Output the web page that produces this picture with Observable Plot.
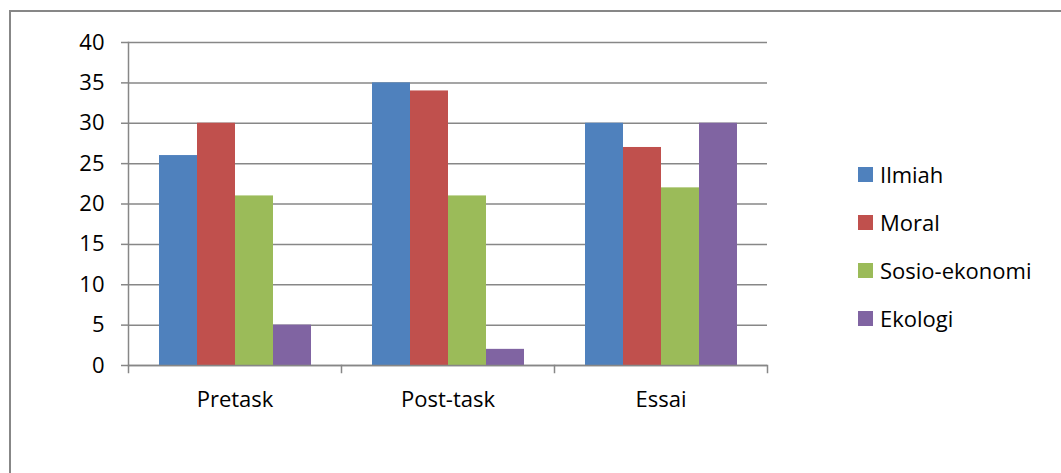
<!DOCTYPE html>
<html><head><meta charset="utf-8">
<script src="https://cdn.jsdelivr.net/npm/d3@7"></script>
<script src="https://cdn.jsdelivr.net/npm/@observablehq/plot@0.6"></script>
<style>
body{margin:0;width:1061px;height:473px;overflow:hidden;background:#fff;font-family:"Open Sans",sans-serif;position:relative;}
#frame{position:absolute;left:9px;top:10px;width:1100px;height:500px;border:2px solid #878787;border-right:none;border-bottom:none;}
#chart{position:absolute;left:0;top:0;}
#legend{position:absolute;left:858px;top:150px;display:flex;flex-direction:column;}
.item{height:48px;display:flex;align-items:center;font-size:22px;color:#000;}
.sw{width:15px;height:15px;margin-right:7px;}
</style></head>
<body>
<div id="frame"></div>
<div id="chart"></div>
<div id="legend"></div>
<script>
const groups = ["Pretask", "Post-task", "Essai"];
const series = ["Ilmiah", "Moral", "Sosio-ekonomi", "Ekologi"];
const ilmiah = [26, 35, 30];
const moral = [30, 34, 27];
const sosioEkonomi = [21, 21, 22];
const ekologi = [5, 2, 30];
const colors = ["#4F81BD", "#C0504D", "#9BBB59", "#8064A2"];
const yTicks = [0, 5, 10, 15, 20, 25, 30, 35, 40];

const seriesValues = [ilmiah, moral, sosioEkonomi, ekologi];
const data = groups.flatMap((g, i) => series.map((s, j) => ({group: g, series: s, value: seriesValues[j][i]})));

const gray = "#878787";
const plot = Plot.plot({
  width: 800,
  height: 420,
  marginLeft: 128,
  marginRight: 33,
  marginTop: 42,
  marginBottom: 55,
  style: {fontFamily: "'Open Sans', sans-serif", fontSize: "22px", color: "#000", background: "transparent"},
  fx: {domain: groups, padding: 0, label: null},
  x: {domain: series, paddingInner: 0, paddingOuter: 0.75, axis: null},
  y: {domain: [0, 40], label: null},
  color: {domain: series, range: colors},
  marks: [
    Plot.gridY(yTicks, {stroke: gray, strokeOpacity: 1, strokeWidth: 1.5}),
    Plot.barY(data, {fx: "group", x: "series", y: "value", fill: "series"}),
    Plot.axisY(yTicks, {tickSize: 7, tickPadding: 17, stroke: gray, strokeWidth: 1.5, fontSize: 22, label: null}),
    Plot.axisFx({anchor: "bottom", tickSize: 0, tickPadding: 26, fontSize: 22, label: null}),
    Plot.frame({anchor: "left", facetAnchor: "left", stroke: gray, strokeWidth: 1.5}),
    Plot.ruleY([0], {stroke: gray, strokeWidth: 1.5}),
    Plot.frame({anchor: "left", insetTop: 323, insetBottom: -7, stroke: gray, strokeWidth: 1.5}),
    Plot.frame({anchor: "right", facetAnchor: "right", insetTop: 323, insetBottom: -7, stroke: gray, strokeWidth: 1.5})
  ]
});
document.getElementById("chart").appendChild(plot);

const legend = document.getElementById("legend");
series.forEach((s, i) => {
  const item = document.createElement("div");
  item.className = "item";
  const sw = document.createElement("div");
  sw.className = "sw";
  sw.style.background = colors[i];
  item.appendChild(sw);
  item.appendChild(document.createTextNode(s));
  legend.appendChild(item);
});
</script>
</body></html>
